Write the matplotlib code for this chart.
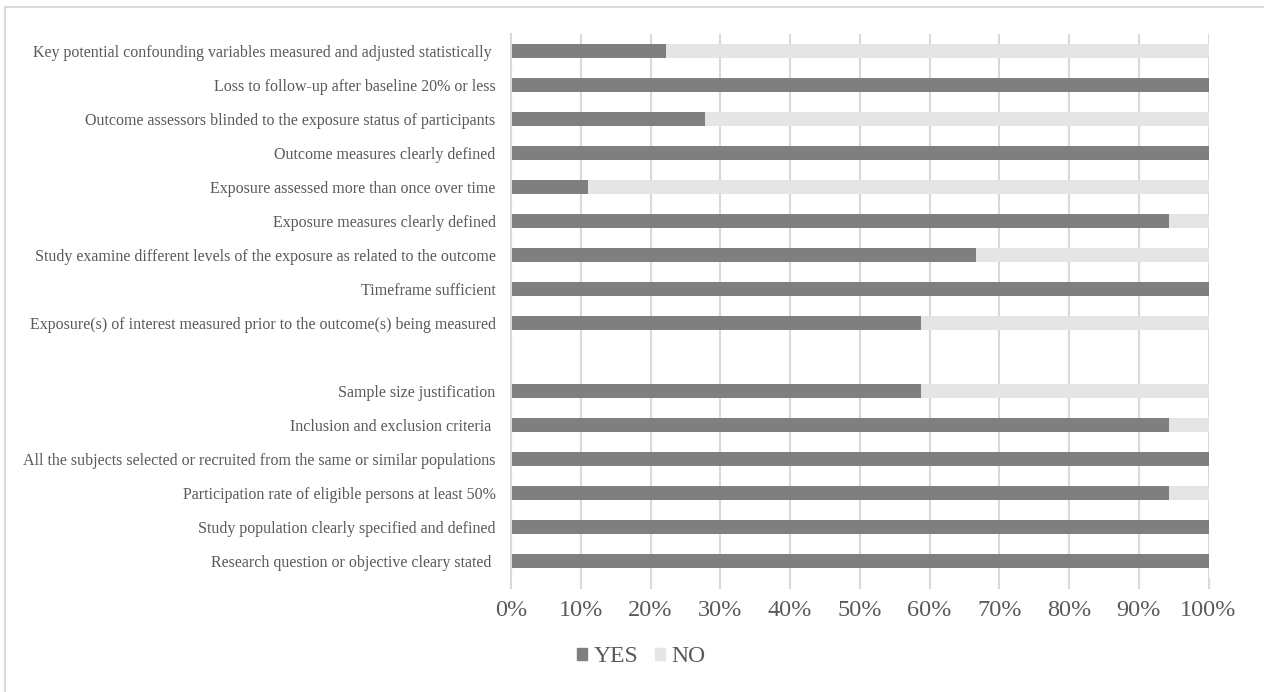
import matplotlib
matplotlib.use("Agg")
import matplotlib.pyplot as plt
from matplotlib.patches import Patch, Rectangle

# Quality assessment items, top to bottom ('' = blank separator row)
items = [
    "Key potential confounding variables measured and adjusted statistically ",
    "Loss to follow-up after baseline 20% or less",
    "Outcome assessors blinded to the exposure status of participants",
    "Outcome measures clearly defined",
    "Exposure assessed more than once over time",
    "Exposure measures clearly defined",
    "Study examine different levels of the exposure as related to the outcome",
    "Timeframe sufficient",
    "Exposure(s) of interest measured prior to the outcome(s) being measured",
    "",
    "Sample size justification",
    "Inclusion and exclusion criteria ",
    "All the subjects selected or recruited from the same or similar populations",
    "Participation rate of eligible persons at least 50%",
    "Study population clearly specified and defined",
    "Research question or objective cleary stated ",
]
yes_pct = [22.2, 100, 27.8, 100, 11.1, 94.4, 66.7, 100, 58.8,
           0, 58.8, 94.4, 100, 94.4, 100, 100]
no_pct = [77.8, 0, 72.2, 0, 88.9, 5.6, 33.3, 0, 41.2,
          0, 41.2, 5.6, 0, 5.6, 0, 0]
ticks = list(range(0, 101, 10))
tick_labels = ["{}%".format(t) for t in ticks]

yes_color = "#7f7f7f"
no_color = "#e5e5e5"
grid_color = "#d9d9d9"
text_color = "#595959"

plt.rcParams["font.family"] = ["Liberation Serif", "DejaVu Serif"]

fig = plt.figure(figsize=(12.64, 6.92), dpi=100)
ax = fig.add_axes([511 / 1264, 1 - 578 / 692, 697.5 / 1264, 544 / 692])

ypos = list(range(len(items)))
ax.barh(ypos, yes_pct, height=0.39, color=yes_color, zorder=3)
ax.barh(ypos, no_pct, left=yes_pct, height=0.39, color=no_color, zorder=3)

ax.set_xlim(0, 100)
ax.set_ylim(len(items) - 0.5, -0.5)
ax.set_xticks(ticks)
ax.set_xticklabels(tick_labels)
ax.set_yticks(ypos)
ax.set_yticklabels(items)

ax.grid(axis="x", color=grid_color, linewidth=1.5, zorder=0)
for side in ["top", "right", "bottom"]:
    ax.spines[side].set_visible(False)
ax.spines["left"].set_color(grid_color)
ax.spines["left"].set_linewidth(1.5)
ax.spines["left"].set_zorder(4)

ax.tick_params(axis="y", length=0, pad=11, labelsize=11.5, labelcolor=text_color)
ax.tick_params(axis="x", length=8, width=1.5, color=grid_color, pad=8,
               labelsize=17.5, labelcolor=text_color)

handles = [Patch(color=yes_color, label="YES"), Patch(color=no_color, label="NO")]
fig.legend(handles=handles, loc="center", bbox_to_anchor=(641 / 1264, 1 - 657 / 692),
           ncol=2, frameon=False, fontsize=17, labelcolor=text_color,
           handlelength=0.45, handleheight=0.45, handletextpad=0.25,
           columnspacing=0.7)

# chart area border (cropped at right and bottom in the original)
fig.patches.append(Rectangle((5 / 1264, -0.1), 1.2, 1 - 7 / 692 + 0.1,
                             transform=fig.transFigure, fill=False,
                             edgecolor=grid_color, linewidth=1.5))

fig.savefig("out.png", dpi=100)
